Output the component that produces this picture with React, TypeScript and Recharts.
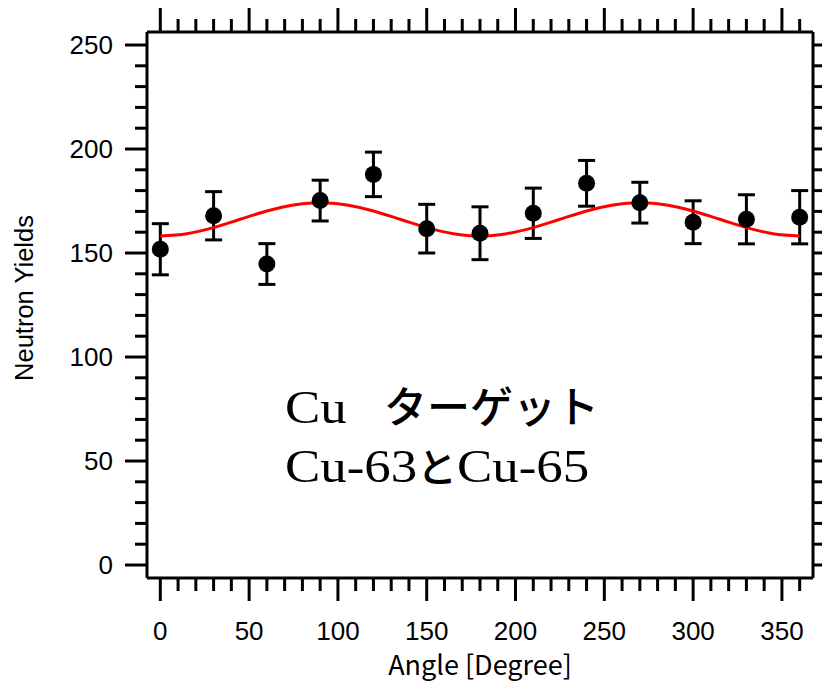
import React from "react";
import {
  ComposedChart,
  Scatter,
  Line,
  ErrorBar,
  XAxis,
  YAxis,
  Customized,
} from "recharts";

// measured points (angle in degrees)
const angles = [0, 30, 60, 90, 120, 150, 180, 210, 240, 270, 300, 330, 360];
const yields = [151.8, 167.9, 144.7, 175.2, 187.8, 161.7, 159.5, 169.1, 183.5, 174.2, 164.8, 166.2, 167.2];
const errors = [12.3, 11.6, 9.8, 9.8, 10.7, 11.7, 12.7, 12.1, 11.0, 9.8, 10.3, 11.8, 12.8];

// red fit curve, read every 15 degrees
const fitAngles = [0, 15, 30, 45, 60, 75, 90, 105, 120, 135, 150, 165, 180, 195, 210, 225, 240, 255, 270, 285, 300, 315, 330, 345, 360];
const fitValues = [158.2, 159.3, 162.2, 166.2, 170.2, 173.1, 174.2, 173.1, 170.2, 166.2, 162.2, 159.3, 158.2, 159.3, 162.2, 166.2, 170.2, 173.1, 174.2, 173.1, 170.2, 166.2, 162.2, 159.3, 158.2];

const xTicks = Array.from({ length: 37 }, (_, i) => i * 10);
const yTicks = Array.from({ length: 26 }, (_, i) => i * 10);

const points = angles.map((a, i) => ({ angle: a, y: yields[i], err: errors[i] }));
const fit = fitAngles.map((a, i) => ({ angle: a, fit: fitValues[i] }));

const tickFont = { fontFamily: "'Liberation Sans', Arial, sans-serif", fontSize: 26, fill: "#000" };
const serif = "'Liberation Serif', 'Times New Roman', serif";
const gothic = "'Noto Sans CJK JP', sans-serif";

const BottomTick = (props: any) => {
  const { x, y, payload } = props;
  const major = payload.value % 50 === 0;
  return (
    <g>
      <line x1={x} y1={y} x2={x} y2={y + (major ? 23 : 13)} stroke="#000" strokeWidth={3} />
      {major && (
        <text x={x} y={y + 62} textAnchor="middle" {...tickFont}>
          {payload.value}
        </text>
      )}
    </g>
  );
};

const TopTick = (props: any) => {
  const { x, y, payload } = props;
  const major = payload.value % 50 === 0;
  return <line x1={x} y1={y} x2={x} y2={y - (major ? 24 : 13)} stroke="#000" strokeWidth={3} />;
};

const LeftTick = (props: any) => {
  const { x, y, payload } = props;
  const major = payload.value % 50 === 0;
  return (
    <g>
      <line x1={x} y1={y} x2={x - (major ? 22 : 12)} y2={y} stroke="#000" strokeWidth={3} />
      {major && (
        <text x={x - 34} y={y} dy="0.36em" textAnchor="end" {...tickFont}>
          {payload.value}
        </text>
      )}
    </g>
  );
};

const RightTick = (props: any) => {
  const { x, y, payload } = props;
  const major = payload.value % 50 === 0;
  return <line x1={x} y1={y} x2={x + (major ? 22 : 13)} y2={y} stroke="#000" strokeWidth={3} />;
};

// serif text stretched horizontally like the original
const Wide = ({ x, y, children }: any) => (
  <text
    x={x}
    y={y}
    transform={`translate(${x} 0) scale(1.15 1) translate(${-x} 0)`}
    fontFamily={serif}
    fontSize={46}
    fill="#000"
  >
    {children}
  </text>
);

const Texts = () => (
  <g>
    <text
      x={16}
      y={290}
      transform="rotate(-90 16 290)"
      textAnchor="middle"
      dy="0.36em"
      fontFamily="'Liberation Sans', Arial, sans-serif"
      fontSize={25.5}
      fill="#000"
    >
      Neutron Yields
    </text>
    <text x={472} y={667} textAnchor="middle" fontFamily={gothic} fontSize={27} fill="#000">
      Angle [Degree]
    </text>
    <Wide x={277} y={415}>Cu</Wide>
    <text x={376} y={415} fontFamily={gothic} fontSize={43} fontWeight={500} fill="#000">
      ターゲット
    </text>
    <Wide x={277} y={474}>Cu-63</Wide>
    <text x={409} y={474} fontFamily={gothic} fontSize={40} fontWeight={500} fill="#000">
      と
    </text>
    <Wide x={449} y={474}>Cu-65</Wide>
  </g>
);

export default function App() {
  return (
    <ComposedChart width={822} height={675} margin={{ top: 0, right: 0, bottom: 0, left: 0 }}>
      <XAxis
        xAxisId="b"
        dataKey="angle"
        type="number"
        domain={[-7.5, 367.5]}
        ticks={xTicks}
        interval={0}
        allowDataOverflow
        height={105}
        tickSize={0}
        tickMargin={0}
        tick={<BottomTick />}
        axisLine={{ stroke: "#000", strokeWidth: 3 }}
      />
      <XAxis
        xAxisId="t"
        orientation="top"
        dataKey="angle"
        type="number"
        domain={[-7.5, 367.5]}
        ticks={xTicks}
        interval={0}
        allowDataOverflow
        height={24}
        tickSize={0}
        tickMargin={0}
        tick={<TopTick />}
        axisLine={{ stroke: "#000", strokeWidth: 3 }}
      />
      <YAxis
        yAxisId="l"
        type="number"
        domain={[-6.25, 256.25]}
        ticks={yTicks}
        interval={0}
        allowDataOverflow
        width={139}
        tickSize={0}
        tickMargin={0}
        tick={<LeftTick />}
        axisLine={{ stroke: "#000", strokeWidth: 3 }}
      />
      <YAxis
        yAxisId="r"
        orientation="right"
        type="number"
        domain={[-6.25, 256.25]}
        ticks={yTicks}
        interval={0}
        allowDataOverflow
        width={17}
        tickSize={0}
        tickMargin={0}
        tick={<RightTick />}
        axisLine={{ stroke: "#000", strokeWidth: 3 }}
      />
      <Scatter
        xAxisId="b"
        yAxisId="l"
        data={points}
        dataKey="y"
        isAnimationActive={false}
        shape={(p: any) => <circle cx={p.cx} cy={p.cy} r={8.5} fill="#000" />}
      >
        <ErrorBar dataKey="err" direction="y" width={8.5} strokeWidth={3} stroke="#000" isAnimationActive={false} />
      </Scatter>
      <Line
        xAxisId="b"
        yAxisId="l"
        data={fit}
        dataKey="fit"
        type="monotone"
        stroke="#ff0000"
        strokeWidth={3}
        dot={false}
        activeDot={false}
        isAnimationActive={false}
      />
      <Customized component={Texts} />
    </ComposedChart>
  );
}
